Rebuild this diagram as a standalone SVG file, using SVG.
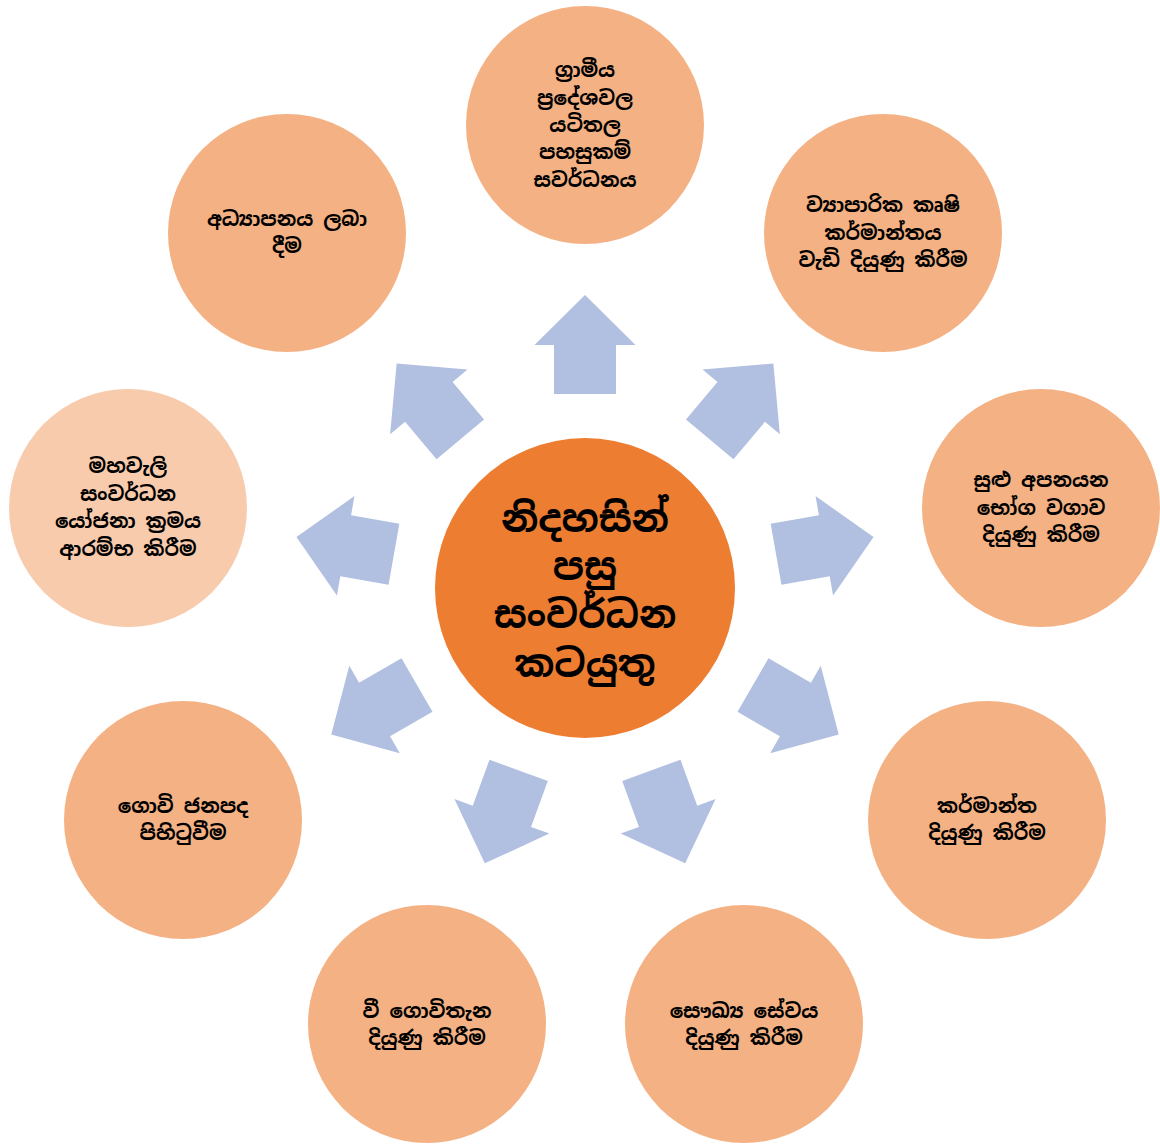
<svg xmlns="http://www.w3.org/2000/svg" width="1160" height="1144" viewBox="0 0 1160 1144">
<style>
.n{fill:#F4B183;}
.nl{fill:#F8CBAD;}
.c{fill:#ED7D31;}
.t{font-family:"Noto Sans Sinhala","Noto Sans","DejaVu Sans",sans-serif;font-size:20px;font-weight:bold;fill:#000;text-anchor:middle;dominant-baseline:central;}
.tc{font-family:"Noto Sans Sinhala","Noto Sans","DejaVu Sans",sans-serif;font-size:38px;font-weight:bold;fill:#000;text-anchor:middle;dominant-baseline:central;}
.a{fill:#B1BFE0;}
</style>
<defs>
<path id="arr" d="M194,-31 L243,-31 L243,-50.5 L293,0 L243,50.5 L243,31 L194,31 Z"/>
</defs>
<g id="connectors" class="a">
<use href="#arr" transform="translate(585,588) rotate(-90)"/>
<use href="#arr" transform="translate(585,588) rotate(-50)"/>
<use href="#arr" transform="translate(585,588) rotate(-10)"/>
<use href="#arr" transform="translate(585,588) rotate(30)"/>
<use href="#arr" transform="translate(585,588) rotate(70)"/>
<use href="#arr" transform="translate(585,588) rotate(110)"/>
<use href="#arr" transform="translate(585,588) rotate(150)"/>
<use href="#arr" transform="translate(585,588) rotate(190)"/>
<use href="#arr" transform="translate(585,588) rotate(230)"/>
</g>
<g id="center">
<circle class="c" cx="585" cy="588" r="150"/>
<text class="tc" x="585" y="518">නිදහසින්</text>
<text class="tc" x="585" y="566">පසු</text>
<text class="tc" x="585" y="614">සංවර්ධන</text>
<text class="tc" x="585" y="663">කටයුතු</text>
</g>
<g id="n-top">
<circle class="n" cx="585" cy="125" r="119"/>
<text class="t" x="585" y="70">ග්‍රාමීය</text>
<text class="t" x="585" y="98">ප්‍රදේශවල</text>
<text class="t" x="585" y="125">යටිතල</text>
<text class="t" x="585" y="152">පහසුකම්</text>
<text class="t" x="585" y="180">සවර්ධනය</text>
</g>
<g id="n-topright">
<circle class="n" cx="883" cy="233" r="119"/>
<text class="t" x="883" y="205">ව්‍යාපාරික කෘෂි</text>
<text class="t" x="883" y="233">කර්මාන්තය</text>
<text class="t" x="883" y="260">වැඩි දියුණු කිරීම</text>
</g>
<g id="n-right">
<circle class="n" cx="1041" cy="508" r="119"/>
<text class="t" x="1041" y="480">සුළු අපනයන</text>
<text class="t" x="1041" y="508">භෝග වගාව</text>
<text class="t" x="1041" y="535">දියුණු කිරීම</text>
</g>
<g id="n-bottomright">
<circle class="n" cx="987" cy="820" r="119"/>
<text class="t" x="987" y="806">කර්මාන්ත</text>
<text class="t" x="987" y="833">දියුණු කිරීම</text>
</g>
<g id="n-bottom2">
<circle class="n" cx="744" cy="1024" r="119"/>
<text class="t" x="744" y="1011">සෞඛ්‍ය සේවය</text>
<text class="t" x="744" y="1038">දියුණු කිරීම</text>
</g>
<g id="n-bottom1">
<circle class="n" cx="427" cy="1024" r="119"/>
<text class="t" x="427" y="1011">වී ගොවිතැන</text>
<text class="t" x="427" y="1038">දියුණු කිරීම</text>
</g>
<g id="n-bottomleft">
<circle class="n" cx="183" cy="820" r="119"/>
<text class="t" x="183" y="806">ගොවි ජනපද</text>
<text class="t" x="183" y="833">පිහිටුවීම</text>
</g>
<g id="n-left">
<circle class="nl" cx="128" cy="508" r="119"/>
<text class="t" x="128" y="466">මහවැලි</text>
<text class="t" x="128" y="494">සංවර්ධන</text>
<text class="t" x="128" y="521">යෝජනා ක්‍රමය</text>
<text class="t" x="128" y="549">ආරම්භ කිරීම</text>
</g>
<g id="n-topleft">
<circle class="n" cx="287" cy="233" r="119"/>
<text class="t" x="287" y="219">අධ්‍යාපනය ලබා</text>
<text class="t" x="287" y="246">දීම</text>
</g>
</svg>
